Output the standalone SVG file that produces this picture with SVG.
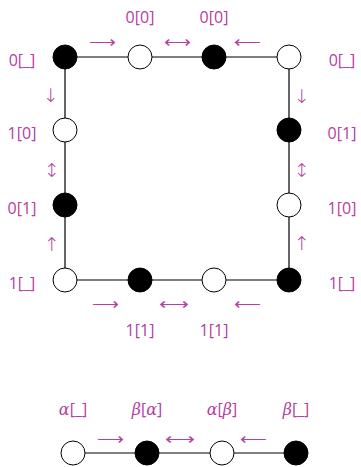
<svg xmlns="http://www.w3.org/2000/svg" width="361" height="467" viewBox="0 0 361 467">
<style>
.e{stroke:#000;stroke-width:1.2;fill:none}
.b{fill:#000;stroke:#000;stroke-width:1}
.w{fill:#fff;stroke:#000;stroke-width:1}
.t{fill:#b5409e;font-family:"Open Sans","DejaVu Sans",sans-serif;font-size:16px;text-anchor:middle}
.a{fill:#b5409e;font-family:"DejaVu Sans",sans-serif;font-weight:200;font-size:16px;text-anchor:middle}
.v{fill:#b5409e;font-family:"DejaVu Sans",sans-serif;font-weight:200;font-size:19px;text-anchor:middle}
.g{font-style:italic;font-family:"DejaVu Serif",serif}
</style>
<g id="connectors">
<path class="e" d="M65 57H289V280H65Z"/>
<path class="e" d="M73 453H296"/>
</g>
<g id="n1"><circle class="b" cx="65" cy="57" r="12"/></g>
<g id="n2"><circle class="w" cx="140" cy="57" r="12"/></g>
<g id="n3"><circle class="b" cx="214" cy="57" r="12"/></g>
<g id="n4"><circle class="w" cx="289" cy="57" r="12"/></g>
<g id="n5"><circle class="w" cx="65" cy="130" r="12"/></g>
<g id="n6"><circle class="b" cx="65" cy="205" r="12"/></g>
<g id="n7"><circle class="w" cx="65" cy="280" r="12"/></g>
<g id="n8"><circle class="b" cx="289" cy="130" r="12"/></g>
<g id="n9"><circle class="w" cx="289" cy="205" r="12"/></g>
<g id="n10"><circle class="b" cx="289" cy="280" r="12"/></g>
<g id="n11"><circle class="b" cx="140" cy="280" r="12"/></g>
<g id="n12"><circle class="w" cx="214" cy="280" r="12"/></g>
<g id="m1"><circle class="w" cx="73" cy="453" r="12"/></g>
<g id="m2"><circle class="b" cx="147" cy="453" r="12"/></g>
<g id="m3"><circle class="w" cx="222" cy="453" r="12"/></g>
<g id="m4"><circle class="b" cx="296" cy="453" r="12"/></g>
<g id="labels">
<text class="t" x="22" y="66">0[_]</text>
<text class="t" x="140" y="23">0[0]</text>
<text class="t" x="214" y="23">0[0]</text>
<text class="t" x="342" y="66">0[_]</text>
<text class="t" x="22" y="139">1[0]</text>
<text class="t" x="22" y="214">0[1]</text>
<text class="t" x="22" y="289">1[_]</text>
<text class="t" x="342" y="139">0[1]</text>
<text class="t" x="342" y="214">1[0]</text>
<text class="t" x="342" y="289">1[_]</text>
<text class="t" x="140" y="336">1[1]</text>
<text class="t" x="214" y="336">1[1]</text>
<text class="t" x="73" y="415"><tspan class="g">α</tspan>[_]</text>
<text class="t" x="147" y="415"><tspan class="g">β</tspan>[<tspan class="g">α</tspan>]</text>
<text class="t" x="222" y="415"><tspan class="g">α</tspan>[<tspan class="g">β</tspan>]</text>
<text class="t" x="296" y="415"><tspan class="g">β</tspan>[_]</text>
</g>
<g id="arrows">
<text class="a" x="102.5" y="47" textLength="27" lengthAdjust="spacingAndGlyphs">⟶</text>
<text class="a" x="177.5" y="47" textLength="27" lengthAdjust="spacingAndGlyphs">⟷</text>
<text class="a" x="247.5" y="47" textLength="27" lengthAdjust="spacingAndGlyphs">⟵</text>
<text class="a" x="105" y="309" textLength="27" lengthAdjust="spacingAndGlyphs">⟶</text>
<text class="a" x="174" y="309" textLength="30" lengthAdjust="spacingAndGlyphs">⟷</text>
<text class="a" x="247" y="309" textLength="27" lengthAdjust="spacingAndGlyphs">⟵</text>
<text class="a" x="110.5" y="444" textLength="27" lengthAdjust="spacingAndGlyphs">⟶</text>
<text class="a" x="180" y="444" textLength="30" lengthAdjust="spacingAndGlyphs">⟷</text>
<text class="a" x="253" y="444" textLength="27" lengthAdjust="spacingAndGlyphs">⟵</text>
<text class="v" x="51" y="102">↓</text>
<text class="v" x="52" y="177">↕</text>
<text class="v" x="52" y="251">↑</text>
<text class="v" x="302" y="103">↓</text>
<text class="v" x="302" y="177">↕</text>
<text class="v" x="302" y="250">↑</text>
</g>
</svg>
